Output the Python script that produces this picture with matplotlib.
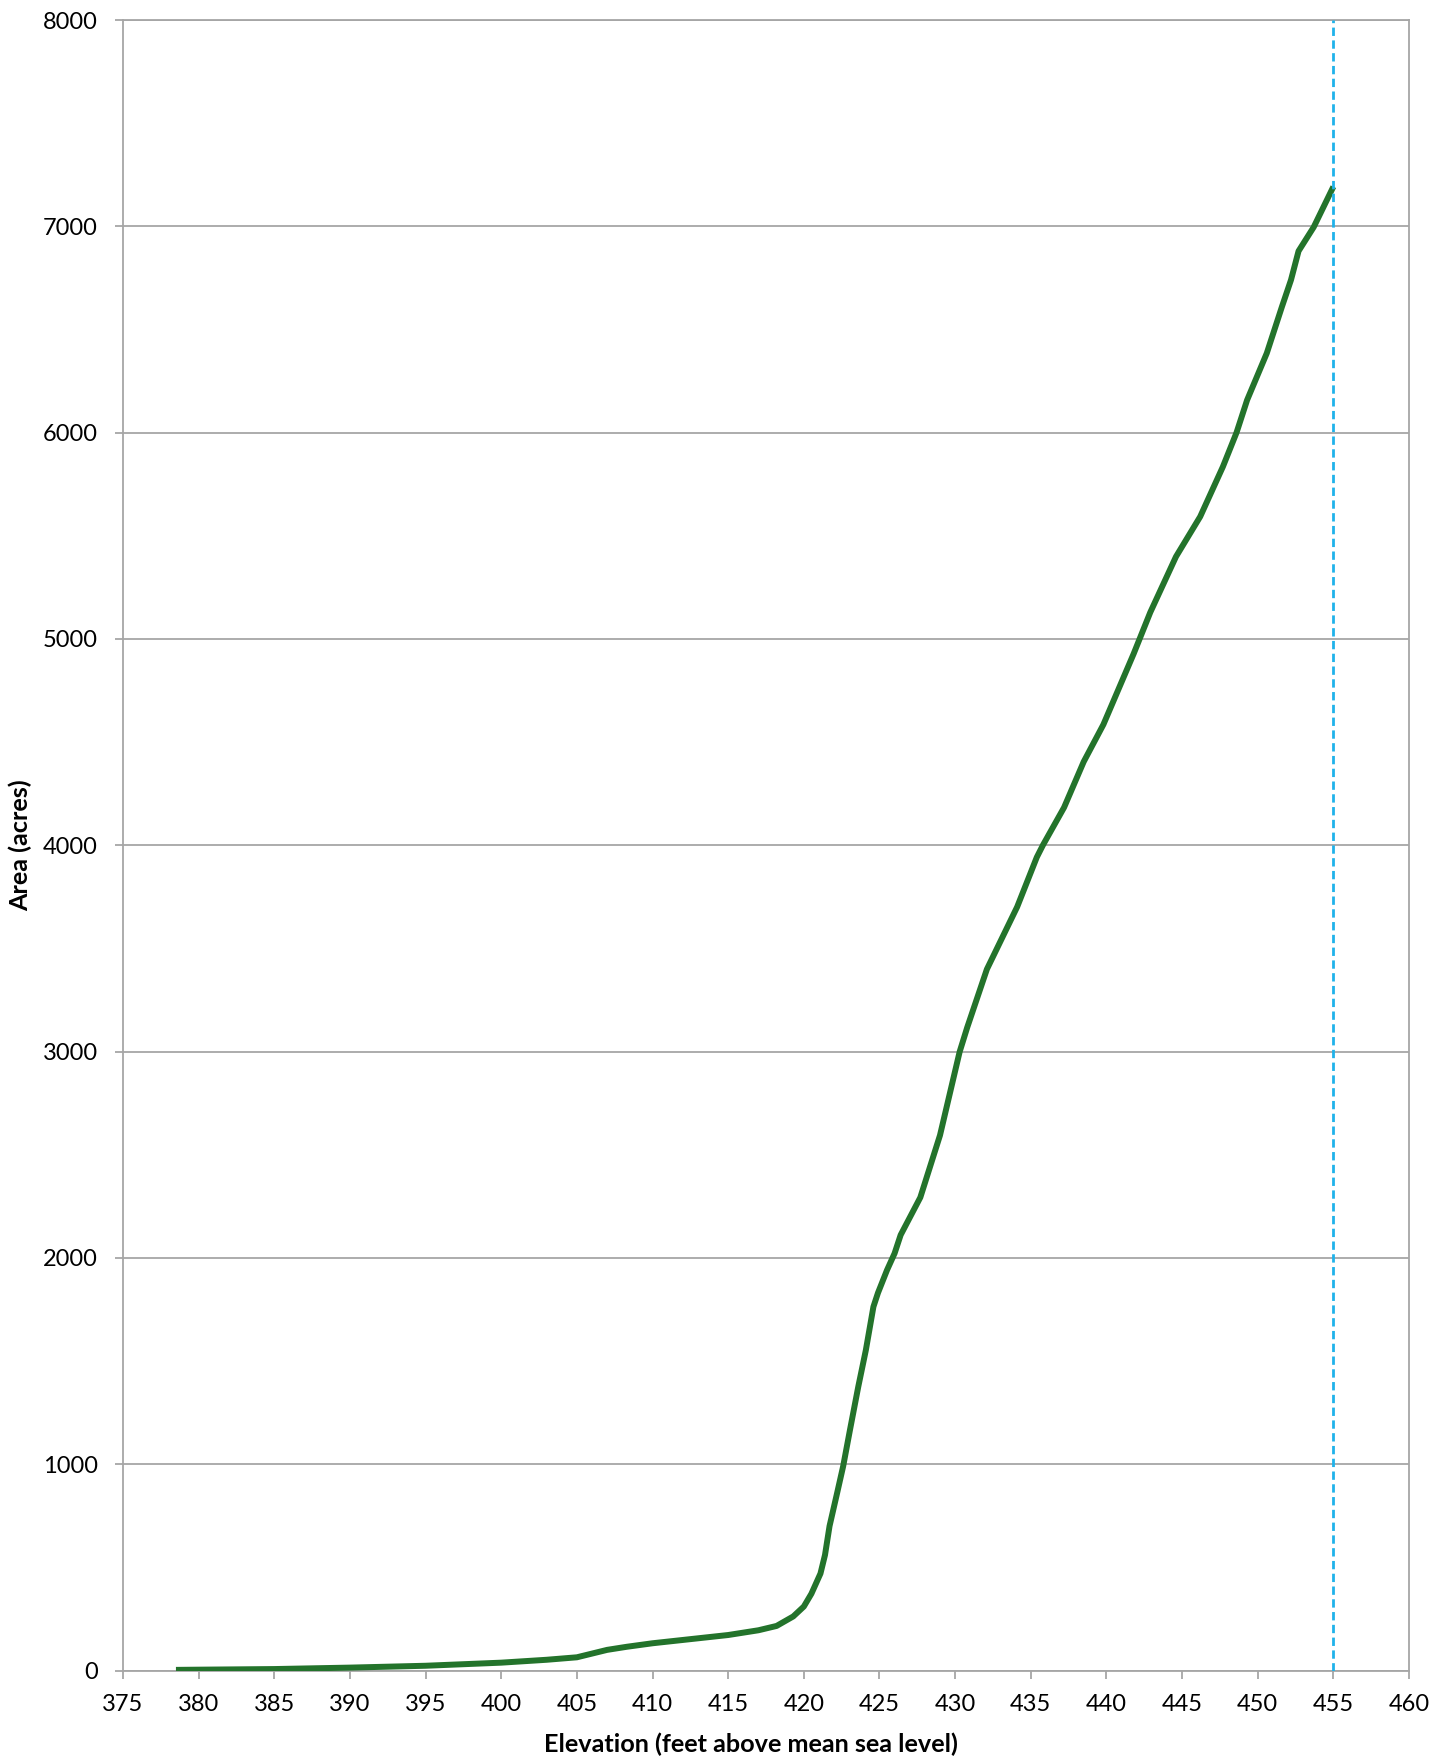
import matplotlib
matplotlib.use("Agg")
import matplotlib.pyplot as plt

# Reservoir surface area vs. water-surface elevation
elevation_ft = [378.5, 380, 385, 390, 395, 400, 403, 405, 406, 407, 408.3, 410,
                412, 415, 417, 418.2, 419.3, 420, 420.5, 421.1, 421.4, 421.7,
                422.2, 422.6, 423.05, 423.6, 424.1, 424.6, 424.9, 425.5, 426.0,
                426.4, 427.7, 429.0, 430.3, 430.8, 432.1, 434.1, 435.4, 435.8,
                437.2, 438.5, 439.8, 441.8, 442.9, 444.6, 446.2, 447.7, 448.6,
                449.3, 450.6, 451.6, 452.2, 452.7, 453.7, 455.0]
area_acres = [3, 4, 7, 14, 23, 38, 52, 64, 82, 100, 115, 132,
              148, 172, 195, 216, 262, 310, 372, 470, 560, 700,
              860, 990, 1166, 1376, 1553, 1763, 1830, 1941, 2022,
              2111, 2293, 2594, 2999, 3117, 3399, 3701, 3942, 4000,
              4183, 4405, 4585, 4928, 5129, 5399, 5593, 5835, 6000,
              6158, 6385, 6610, 6740, 6880, 6996, 7192]

# Full-pool elevation marker
full_pool_ft = 455.0

x_ticks = list(range(375, 461, 5))
y_ticks = list(range(0, 8001, 1000))

plt.rcParams["font.family"] = ["Lato", "DejaVu Sans"]

fig = plt.figure(figsize=(14.47, 17.59), dpi=100)
ax = fig.add_axes([123 / 1447, 1 - 1670.5 / 1759, 1286 / 1447, 1650.5 / 1759])

grid_gray = "#a6a6a6"
ax.set_xlim(375, 460)
ax.set_ylim(0, 8000)
ax.set_xticks(x_ticks)
ax.set_yticks(y_ticks)
ax.grid(axis="y", color=grid_gray, linewidth=1.3)
ax.set_axisbelow(True)

for side in ("left", "bottom", "right", "top"):
    ax.spines[side].set_color(grid_gray)
    ax.spines[side].set_linewidth(1.3)

ax.tick_params(axis="both", direction="out", length=6, width=1.3,
               color=grid_gray, labelsize=17, labelcolor="black")
ax.tick_params(axis="y", pad=12)
ax.tick_params(axis="x", pad=11)

ax.plot(elevation_ft, area_acres, color="#23732b", linewidth=4.3,
        solid_capstyle="butt", solid_joinstyle="round", zorder=3)
ax.axvline(full_pool_ft, color="#1fb2ea", linewidth=2.0,
           linestyle=(0, (3.0, 1.6)), zorder=4)

ax.set_xlabel("Elevation (feet above mean sea level)", fontsize=18.2,
              fontweight="bold", va="top")
ax.xaxis.set_label_coords(488 / 1000, -0.0375)
ax.set_ylabel("Area (acres)", fontsize=18.2, fontweight="bold", va="center")
ax.yaxis.set_label_coords(-0.0795, 0.5)

fig.savefig("out.png", dpi=100)
